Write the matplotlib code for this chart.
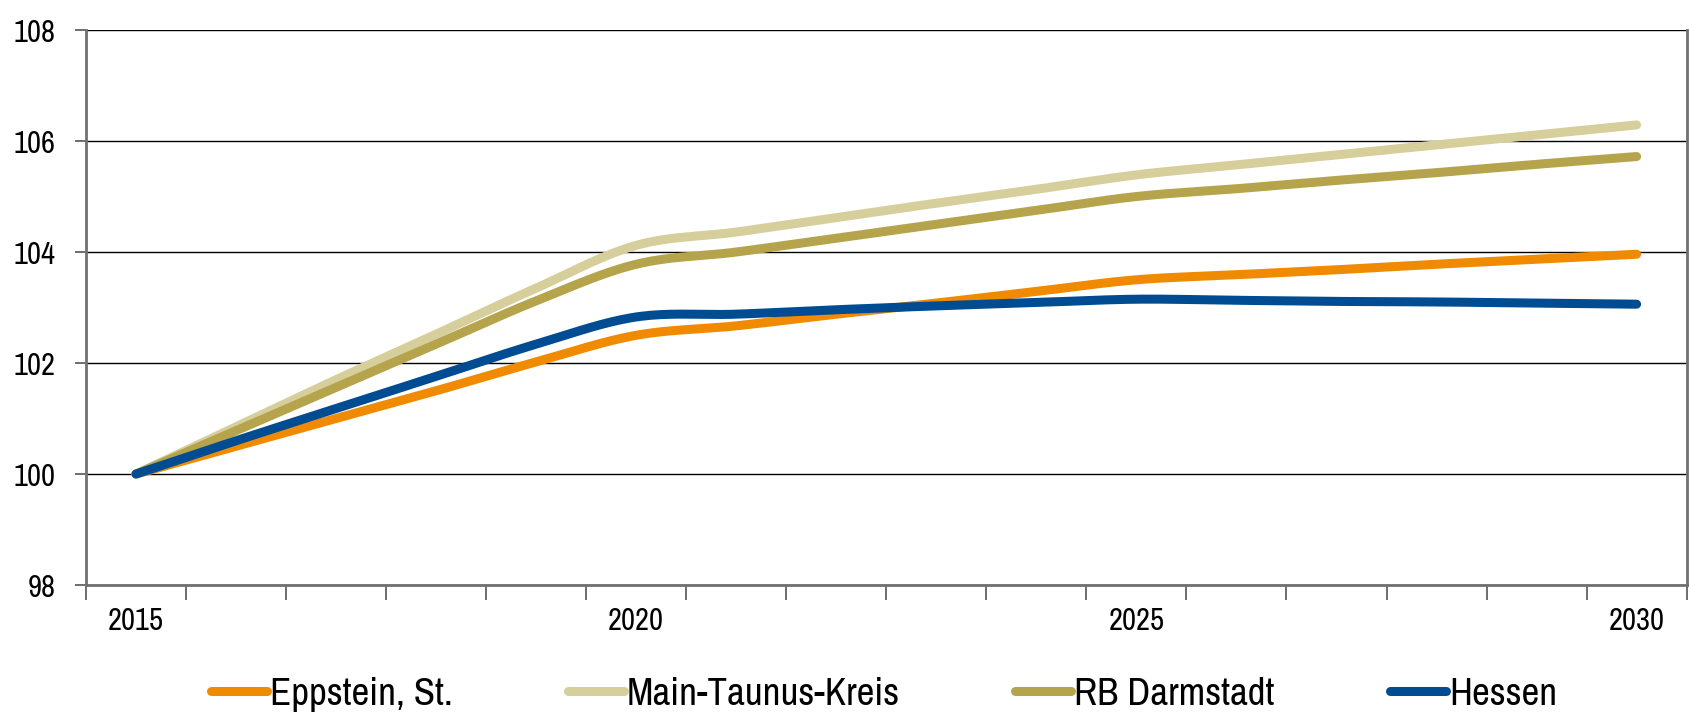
import numpy as np
import matplotlib.pyplot as plt
from matplotlib.ticker import MultipleLocator, FixedLocator

years = list(range(2015, 2031))
eppstein = [100.0, 100.5, 101.0, 101.5, 102.02, 102.5, 102.67, 102.88, 103.08, 103.29,
            103.5, 103.59, 103.68, 103.78, 103.87, 103.96]
main_taunus = [100.0, 100.85, 101.7, 102.52, 103.35, 104.12, 104.36, 104.62, 104.88, 105.13,
               105.39, 105.57, 105.75, 105.93, 106.11, 106.29]
rb_darmstadt = [100.0, 100.78, 101.56, 102.34, 103.12, 103.78, 104.0, 104.25, 104.5, 104.75,
                105.0, 105.14, 105.29, 105.43, 105.58, 105.72]
hessen = [100.0, 100.6, 101.18, 101.76, 102.34, 102.83, 102.88, 102.96, 103.03, 103.09,
          103.15, 103.13, 103.11, 103.1, 103.08, 103.06]

series = [
    ("Eppstein, St.", eppstein, "#F08A00"),
    ("Main-Taunus-Kreis", main_taunus, "#D6CF9C"),
    ("RB Darmstadt", rb_darmstadt, "#B5A44B"),
    ("Hessen", hessen, "#004C93"),
]

plt.rcParams['font.family'] = ['Archivo Narrow', 'Liberation Sans', 'DejaVu Sans']


def smooth(x, y, n=20):
    # catmull-rom curve through the points, like excel's smoothed line
    x = np.asarray(x, float)
    y = np.asarray(y, float)
    px = np.concatenate([[2 * x[0] - x[1]], x, [2 * x[-1] - x[-2]]])
    py = np.concatenate([[2 * y[0] - y[1]], y, [2 * y[-1] - y[-2]]])
    xs, ys = [], []
    t = np.linspace(0, 1, n, endpoint=False)
    for i in range(1, len(px) - 2):
        for p, out in ((px, xs), (py, ys)):
            p0, p1, p2, p3 = p[i - 1], p[i], p[i + 1], p[i + 2]
            out.extend(0.5 * (2 * p1 + (-p0 + p2) * t
                              + (2 * p0 - 5 * p1 + 4 * p2 - p3) * t ** 2
                              + (-p0 + 3 * p1 - 3 * p2 + p3) * t ** 3))
    xs.append(x[-1])
    ys.append(y[-1])
    return np.array(xs), np.array(ys)


fig = plt.figure(figsize=(16.9, 7.18), dpi=100)
ax = fig.add_axes([0.0509, 0.1852, 0.9471, 0.773])

pos = np.arange(len(years))
for name, vals, color in series:
    sx, sy = smooth(pos, vals)
    ax.plot(sx, sy, color=color, lw=6.5, solid_capstyle='round', label=name)

ax.set_xlim(-0.5, len(years) - 0.5)
ax.set_ylim(98, 108)
ax.yaxis.set_major_locator(MultipleLocator(2))
ax.grid(axis='y', color='black', lw=1)
ax.set_axisbelow(True)

ax.xaxis.set_major_locator(FixedLocator([0, 5, 10, 15]))
ax.set_xticklabels(['2015', '2020', '2025', '2030'], fontsize=22)
ax.xaxis.set_minor_locator(FixedLocator(np.arange(-0.5, len(years), 1.0)))
ax.tick_params(axis='x', which='major', length=0, pad=16)
ax.tick_params(axis='x', which='minor', length=11, width=1.2, color='#555555')
ax.tick_params(axis='y', length=8, width=1.2, color='#555555', pad=14, labelsize=22)

for side in ['left', 'bottom', 'right']:
    ax.spines[side].set_color('#707070')
    ax.spines[side].set_linewidth(2)
ax.spines['top'].set_visible(False)

fig.legend(loc='lower center', bbox_to_anchor=(0.523, -0.04), ncol=4, frameon=False,
           fontsize=28, handlelength=1.45, handletextpad=0.08, columnspacing=2.95)

fig.savefig('out.png', dpi=100)
